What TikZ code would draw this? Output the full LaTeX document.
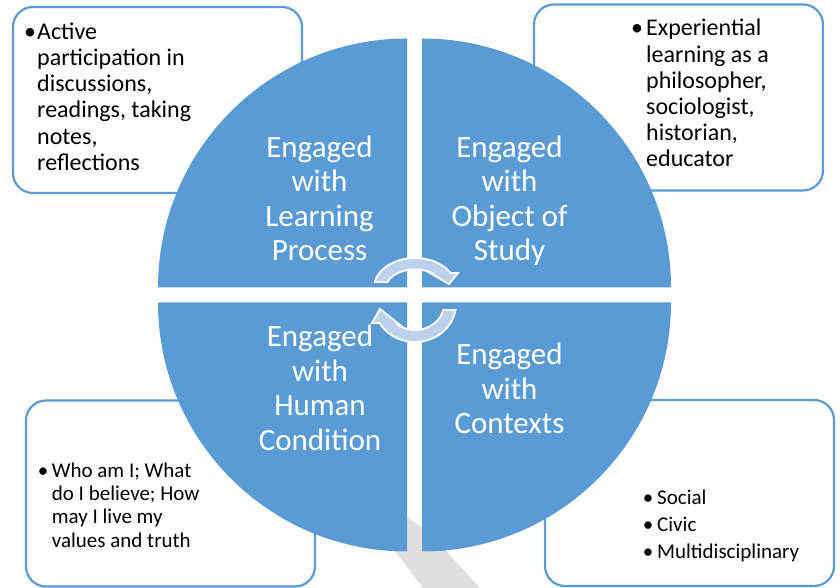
\documentclass[tikz,border=0pt]{standalone}
\usepackage{fontspec}
\setmainfont{Carlito}
\definecolor{qblue}{HTML}{5B9BD5}
\definecolor{arrowfill}{HTML}{BDD1EC}
\definecolor{wmark}{HTML}{E0E0E0}
\begin{document}
\begin{tikzpicture}[x=1pt,y=1pt,
  card/.style={draw=qblue, line width=2.2pt, fill=white, rounded corners=20pt,
    minimum width=289pt, minimum height=186pt, inner sep=0pt},
  quad/.style={fill=qblue},
  qtext/.style={text=white, font=\fontsize{31}{34.5}\selectfont, anchor=base, inner sep=0pt},
  btext/.style={text=black, font=\fontsize{24}{26.2}\selectfont, anchor=base west, inner sep=0pt},
  bbul/.style={btext, anchor=base},
  stext/.style={text=black, font=\fontsize{21}{23.3}\selectfont, anchor=base west, inner sep=0pt},
  sbul/.style={stext, anchor=base},
  ltext/.style={text=black, font=\fontsize{21}{27}\selectfont, anchor=base west, inner sep=0pt},
  lbul/.style={ltext, anchor=base},
  cyc/.style={fill=arrowfill, draw=white, line width=1.8pt, line join=miter}
]
\useasboundingbox (0,0) rectangle (840,588);

% corner cards
\node[card] (tlbox) at (157.5,488) {};
\node[card] (trbox) at (678.5,490.5) {};
\node[card] (blbox) at (170.5,94.5) {};
\node[card] (brbox) at (689.5,95) {};

% faint watermark band
\fill[wmark] (318.6,137.8) -- (432.1,52.6) -- (489,-10) -- (430.6,-10) -- cycle;

% quadrants
\fill[quad] (407,300.5) -- ++(180:249) arc[start angle=180, end angle=90, radius=249] -- cycle;
\fill[quad] (422,300.5) -- ++(90:249) arc[start angle=90, end angle=0, radius=249] -- cycle;
\fill[quad] (407,285.5) -- ++(270:249) arc[start angle=270, end angle=180, radius=249] -- cycle;
\fill[quad] (422,285.5) -- ++(0:249) arc[start angle=0, end angle=-90, radius=249] -- cycle;

% quadrant labels
\node[qtext] (tlq) at (319.5,430.7) {\begin{tabular}[t]{@{}c@{}}Engaged\\with\\Learning\\Process\end{tabular}};
\node[qtext] (trq) at (509.5,430.7) {\begin{tabular}[t]{@{}c@{}}Engaged\\with\\Object of\\Study\end{tabular}};
\node[qtext] (blq) at (320,241) {\begin{tabular}[t]{@{}c@{}}Engaged\\with\\Human\\Condition\end{tabular}};
\node[qtext] (brq) at (509.5,223) {\begin{tabular}[t]{@{}c@{}}Engaged\\with\\Contexts\end{tabular}};

% central cycle arrows
\path[cyc] (374.8,306) arc[start angle=168.5, end angle=30, x radius=41, y radius=30]
  -- (458,315) -- (449,304) -- (429.5,315.2) -- (431.6,315.2)
  arc[start angle=55, end angle=161, x radius=29, y radius=18.5] -- cycle;
\path[cyc] (455.5,278) arc[start angle=-9.1, end angle=-150, x radius=41, y radius=38]
  -- (372,265) -- (380,279) -- (400.5,262.7) -- (398.4,262.7)
  arc[start angle=-125, end angle=-13.3, x radius=29, y radius=26] -- cycle;

% card texts
\node[bbul] (tlbul) at (30,548.7) {•};
\node[btext] (tltext) at (37,548.7) {\begin{tabular}[t]{@{}l@{}}Active\\participation in\\discussions,\\readings, taking\\notes,\\reflections\end{tabular}};

\node[bbul] (trbul) at (637,552) {•};
\node[btext] (trtext) at (646,552) {\begin{tabular}[t]{@{}l@{}}Experiential\\learning as a\\philosopher,\\sociologist,\\historian,\\educator\end{tabular}};

\node[sbul] (blbul) at (43,110.7) {•};
\node[stext] (bltext) at (51.7,110.7) {\begin{tabular}[t]{@{}l@{}}Who am I; What\\do I believe; How\\may I live my\\values and truth\end{tabular}};

\node[lbul] (brbul) at (648,83) {\begin{tabular}[t]{@{}c@{}}•\\•\\•\end{tabular}};
\node[ltext] (brtext) at (657,83) {\begin{tabular}[t]{@{}l@{}}Social\\Civic\\Multidisciplinary\end{tabular}};
\end{tikzpicture}
\end{document}
